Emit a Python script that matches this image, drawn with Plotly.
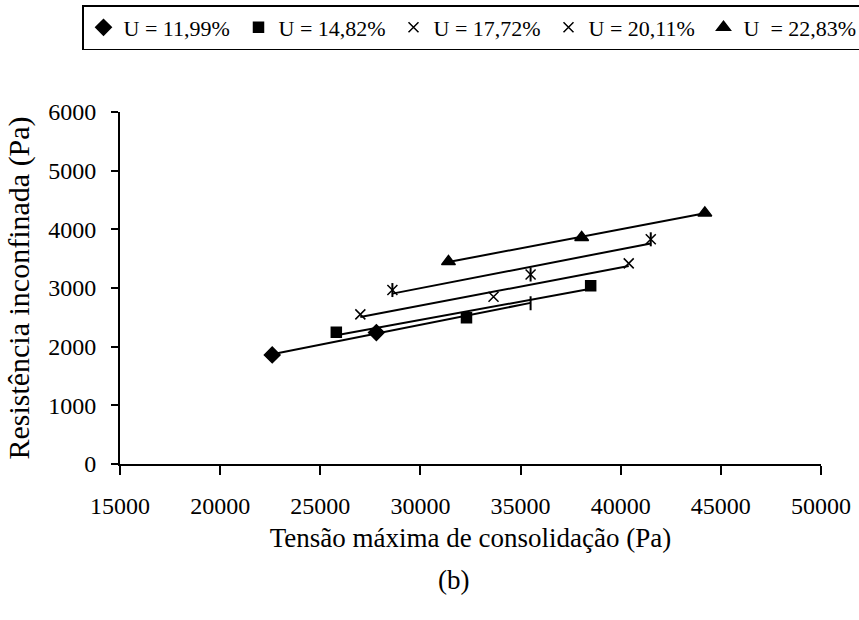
import numpy as np
import plotly.graph_objects as go

# Tensão máxima de consolidação (Pa) vs. resistência inconfinada (Pa), per moisture content
labels = ["U = 11,99%", "U = 14,82%", "U = 17,72%", "U = 20,11%", "U  = 22,83%"]

x_1199 = [22600, 27800, 35500]
y_1199 = [1860, 2240, 2740]

x_1482 = [25800, 32300, 38500]
y_1482 = [2245, 2495, 3040]

x_1772 = [27000, 33650, 40400]
y_1772 = [2550, 2850, 3420]

x_2011 = [28600, 35500, 41500]
y_2011 = [2965, 3230, 3830]

x_2283 = [31400, 38050, 44200]
y_2283 = [3450, 3860, 4280]

x_ticks = [15000, 20000, 25000, 30000, 35000, 40000, 45000, 50000]
y_ticks = [0, 1000, 2000, 3000, 4000, 5000, 6000]

series = [
    (x_1199, y_1199, dict(symbol="diamond", size=12)),
    (x_1482, y_1482, dict(symbol="square", size=10)),
    (x_1772, y_1772, dict(symbol="x-thin-open", size=10)),
    (x_2011, y_2011, dict(symbol="x-thin-open", size=10)),
    (x_2283, y_2283, dict(symbol="triangle-up", size=12)),
]

FONT = '"Liberation Serif", "Times New Roman", Tinos, Times, serif'
fig = go.Figure()

# linear trend line of each series, spanning its own x range
for xs, ys, _ in series:
    slope, icpt = np.polyfit(xs, ys, 1)
    xl = np.array([min(xs), max(xs)], dtype=float)
    fig.add_trace(go.Scatter(x=xl, y=slope * xl + icpt, mode="lines",
                             line=dict(color="black", width=2),
                             showlegend=False, hoverinfo="skip"))

for i, ((xs, ys, mk), name) in enumerate(zip(series, labels)):
    # the last point of U = 11,99% carries a bar mark instead of a diamond
    n = 2 if i == 0 else len(xs)
    fig.add_trace(go.Scatter(
        x=xs[:n], y=ys[:n], mode="markers", name=name,
        marker=dict(color="black", opacity=1, line=dict(color="black", width=1.5), **mk)))

fig.add_trace(go.Scatter(x=x_1199[2:], y=y_1199[2:], mode="markers", showlegend=False,
                         marker=dict(symbol="line-ns-open", size=10, color="black",
                                     line=dict(color="black", width=2))))

# vertical stroke that turns the x markers of U = 20,11% into stars
fig.add_trace(go.Scatter(x=x_2011, y=y_2011, mode="markers", showlegend=False,
                         marker=dict(symbol="line-ns-open", size=10, color="black",
                                     line=dict(color="black", width=2))))

PLOT_W, PLOT_H = 701, 352  # plot area size in px (859-120-38, 620-112-156)
PLOT_L, PLOT_B = 120, 464  # plot area left edge and bottom edge in px

fig.update_layout(
    width=859, height=620,
    margin=dict(l=120, r=38, t=112, b=156, autoexpand=False),
    paper_bgcolor="white", plot_bgcolor="white",
    font=dict(family=FONT, color="black", size=24),
    legend=dict(
        orientation="h", xref="paper", yref="paper",
        x=(82 - PLOT_L) / PLOT_W, y=(PLOT_B - 5) / PLOT_H, xanchor="left", yanchor="top",
        bordercolor="black", borderwidth=1.5, bgcolor="white",
        font=dict(family=FONT, size=22, color="black"),
        itemwidth=30, entrywidth=110, entrywidthmode="pixels", tracegroupgap=0,
    ),
    xaxis=dict(
        range=[15000, 50000], tickvals=x_ticks, ticktext=[str(v) for v in x_ticks],
        showgrid=False, zeroline=False, showline=True, linecolor="black", linewidth=2,
        ticks="outside", ticklen=9, tickwidth=2, tickcolor="black",
        tickfont=dict(family=FONT, size=24), ticklabelstandoff=10,
        title=dict(text="Tensão máxima de consolidação (Pa)", font=dict(family=FONT, size=27),
                   standoff=10),
    ),
    yaxis=dict(
        range=[0, 6000], tickvals=y_ticks, ticktext=[str(v) for v in y_ticks],
        showgrid=False, zeroline=False, showline=True, linecolor="black", linewidth=2,
        ticks="outside", ticklen=7, tickwidth=2, tickcolor="black",
        tickfont=dict(family=FONT, size=24), ticklabelstandoff=10,
        title=dict(text="Resistência inconfinada (Pa)", font=dict(family=FONT, size=30),
                   standoff=10),
    ),
)

fig.add_annotation(text="(b)", xref="paper", yref="paper", x=(453 - PLOT_L) / PLOT_W,
                   y=(PLOT_B - 580) / PLOT_H, showarrow=False, font=dict(family=FONT, size=27),
                   xanchor="center", yanchor="middle")

fig.write_html("out.html")
